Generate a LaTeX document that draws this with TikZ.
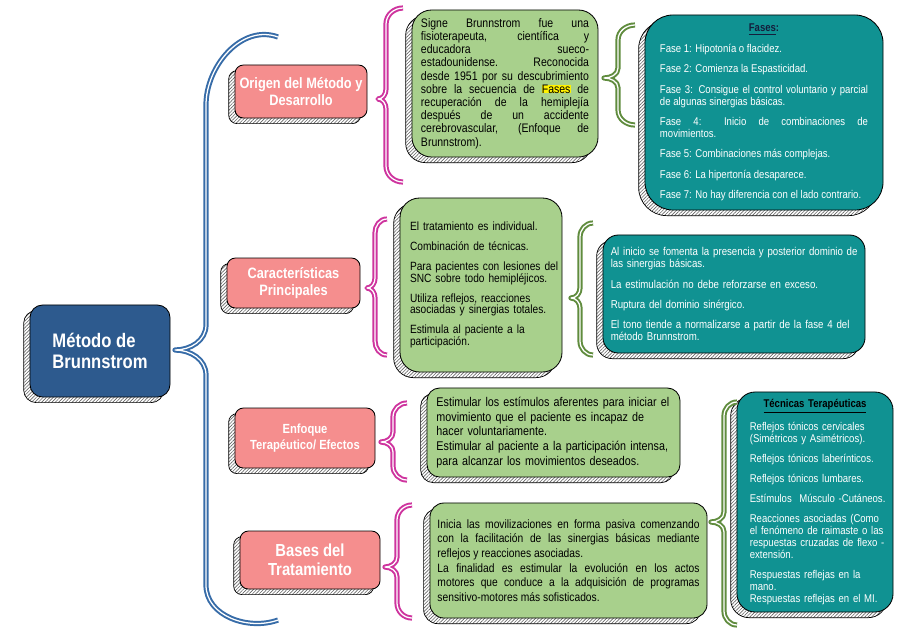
\documentclass[tikz,border=0pt]{standalone}
\usepackage{fontspec}
\setmainfont{Liberation Sans}[FakeStretch=0.85]
\usetikzlibrary{shadows,patterns.meta}

\definecolor{mainblue}{RGB}{45,90,142}
\definecolor{braceblue}{RGB}{55,108,168}
\definecolor{pinkfill}{RGB}{245,142,142}
\definecolor{greenfill}{RGB}{168,208,140}
\definecolor{tealfill}{RGB}{16,146,146}
\definecolor{bracepink}{RGB}{206,52,158}
\definecolor{bracegreen}{RGB}{96,140,62}
\definecolor{titlenavy}{RGB}{20,30,60}

\begin{document}
\begin{tikzpicture}[x=0.025cm,y=0.025cm,
    hatched/.style={general shadow={shadow xshift=-4.5pt,shadow yshift=-4pt,draw=black,line width=0.5pt,pattern={Lines[angle=45,distance=1.7pt,line width=0.45pt]},pattern color=black!60}},
    main node/.style={draw=black,line width=0.6pt,fill=mainblue,rounded corners=9pt,hatched,text=white,align=left,font=\fontsize{13.9}{15}\selectfont\bfseries,minimum width=3.5cm,minimum height=2.3cm},
    topic node/.style={draw=black,line width=0.6pt,fill=pinkfill,rounded corners=6pt,hatched,text=white,align=center,font=\fontsize{10.7}{12}\selectfont\bfseries,inner sep=1pt},
    green node/.style={draw=black,line width=0.6pt,fill=greenfill,rounded corners=14pt,hatched,text=black,inner sep=1pt},
    teal node/.style={draw=black,line width=0.6pt,fill=tealfill,rounded corners=16pt,hatched,text=white,inner sep=1pt},
    items/.style={execute at begin node={\setlength{\parindent}{0pt}\setlength{\parskip}{#1}}},
    brace/.style={draw=#1,line width=1.4pt,double=white,double distance=0.9pt,line join=round}]

    \path[use as bounding box] (0,0) rectangle (905,-640);

    \node[main node] (1) at (100,-351) {Método de\\Brunnstrom};

    \node[topic node,minimum width=3.3cm,minimum height=1.325cm] (2) at (301,-91.5) {Origen del Método y\\Desarrollo};
    \node[topic node,minimum width=3.325cm,minimum height=1.25cm] (3) at (293.5,-283) {Características\\Principales};
    \node[topic node,minimum width=3.5cm,minimum height=1.5cm,font=\fontsize{9.4}{11.4}\selectfont\bfseries] (4) at (305,-438) {Enfoque\\Terapéutico/ Efectos};
    \node[topic node,minimum width=3.5cm,minimum height=1.45cm,font=\fontsize{12.4}{13.5}\selectfont\bfseries] (5) at (310,-560) {Bases del\\Tratamiento};

    \node[green node,rounded corners=14pt,minimum width=4.65cm,minimum height=3.675cm,text width=4.2cm,align=justify,items=0pt,font=\fontsize{8.8}{9.4}\selectfont] (6) at (505,-83.5)
        {Signe Brunnstrom fue una\linebreak fisioterapeuta, científica y\linebreak educadora sueco-\linebreak estadounidense. Reconocida\linebreak desde 1951 por su descubrimiento\linebreak sobre la secuencia de {\setlength{\fboxsep}{0pt}\colorbox{yellow}{Fases}} de\linebreak recuperación de la hemiplejía\linebreak después de un accidente\linebreak cerebrovascular, (Enfoque de\linebreak Brunnstrom).};
    \node[green node,minimum width=4.05cm,minimum height=4.35cm,text width=3.9cm,align=left,items=5.8pt,font=\fontsize{8.5}{8.4}\selectfont] (7) at (481,-285)
        {\leftskip=5pt El tratamiento es individual.\par
         Combinación de técnicas.\par
         Para pacientes con lesiones del\newline SNC sobre todo hemipléjicos.\par
         Utiliza reflejos, reacciones\newline asociadas y sinergias totales.\par
         Estimula al paciente a la\newline participación.\par};
    \node[green node,rounded corners=9pt,minimum width=6.325cm,minimum height=2.225cm,text width=5.85cm,align=left,items=0pt,font=\fontsize{9}{10.5}\selectfont] (8) at (553.5,-432.5)
        {Estimular los estímulos aferentes para iniciar el\newline movimiento que el paciente es incapaz de\newline hacer voluntariamente.\newline Estimular al paciente a la participación intensa,\newline para alcanzar los movimientos deseados.};
    \node[green node,rounded corners=10pt,minimum width=6.925cm,minimum height=2.875cm,text width=6.55cm,align=justify,items=0pt,font=\fontsize{8.6}{10.4}\selectfont] (9) at (568.5,-560.5)
        {Inicia las movilizaciones en forma pasiva comenzando\linebreak con la facilitación de las sinergias básicas mediante\linebreak reflejos y reacciones asociadas.\par
         La finalidad es estimular la evolución en los actos\linebreak motores que conduce a la adquisición de programas\linebreak sensitivo-motores más sofisticados.};

    \node[teal node,rounded corners=20pt,minimum width=5.95cm,minimum height=4.875cm,text width=5.2cm,align=justify,items=6pt,font=\fontsize{8}{8.5}\selectfont] (10) at (764,-112.5)
        {{\centering\bfseries\color{titlenavy}\underline{Fases}:\par}
         Fase 1: Hipotonía o flacidez.\par
         Fase 2: Comienza la Espasticidad.\par
         Fase 3: Consigue el control voluntario y parcial\linebreak de algunas sinergias básicas.\par
         Fase 4: Inicio de combinaciones de\linebreak movimientos.\par
         Fase 5: Combinaciones más complejas.\par
         Fase 6: La hipertonía desaparece.\par
         Fase 7: No hay diferencia con el lado contrario.};
    \node[teal node,rounded corners=11pt,minimum width=6.55cm,minimum height=2.95cm,text width=6.3cm,align=left,items=5.8pt,font=\fontsize{8.1}{8.5}\selectfont] (11) at (734,-294)
        {\leftskip=2pt Al inicio se fomenta la presencia y posterior dominio de\newline las sinergias básicas.\par
         La estimulación no debe reforzarse en exceso.\par
         Ruptura del dominio sinérgico.\par
         El tono tiende a normalizarse a partir de la fase 4 del\newline método Brunnstrom.\par};
    \node[teal node,rounded corners=13pt,minimum width=3.9cm,minimum height=5.5cm,text width=3.75cm,align=left,items=5.7pt,font=\fontsize{8}{8.5}\selectfont] (12) at (815,-502)
        {\leftskip=7pt{\centering\bfseries\color{black}\underline{Técnicas Terapéuticas}\par}
         Reflejos tónicos cervicales\newline (Simétricos y Asimétricos).\par
         Reflejos tónicos laberínticos.\par
         Reflejos tónicos lumbares.\par
         Estímulos~ Músculo -Cutáneos.\par
         Reacciones asociadas (Como\newline el fenómeno de raimaste o las\newline respuestas cruzadas de flexo -\newline extensión.\par
         Respuestas reflejas en la\newline mano.\newline Respuestas reflejas en el MI.\par};

    \draw[brace=braceblue] (278,-37) to[out=160,in=90] (206,-105) -- (206,-325) to[out=-90,in=0] (175,-350)
        to[out=0,in=90] (206,-375) -- (206,-585) to[out=-90,in=200] (278,-620);

    \draw[brace=bracepink] (403,-8) to[out=180,in=90] (386,-24) -- (386,-89) to[out=-90,in=0] (378,-99)
        to[out=0,in=90] (386,-109) -- (386,-166) to[out=-90,in=180] (403,-182);
    \draw[brace=bracepink] (387,-219) to[out=180,in=90] (375,-233) -- (375,-278) to[out=-90,in=0] (367,-288)
        to[out=0,in=90] (375,-298) -- (375,-341) to[out=-90,in=180] (387,-355);
    \draw[brace=bracepink] (407,-403) to[out=180,in=90] (393,-417) -- (393,-432) to[out=-90,in=0] (381,-442)
        to[out=0,in=90] (393,-452) -- (393,-466) to[out=-90,in=180] (407,-480);
    \draw[brace=bracepink] (412,-505) to[out=180,in=90] (397,-520) -- (397,-557) to[out=-90,in=0] (385,-567)
        to[out=0,in=90] (397,-577) -- (397,-603) to[out=-90,in=180] (412,-618);

    \draw[brace=bracegreen] (635,-25) to[out=180,in=90] (618,-40) -- (618,-68) to[out=-90,in=0] (604,-78)
        to[out=0,in=90] (618,-88) -- (618,-110) to[out=-90,in=180] (635,-125);
    \draw[brace=bracegreen] (593,-223) to[out=180,in=90] (580,-237) -- (580,-288) to[out=-90,in=0] (571,-298)
        to[out=0,in=90] (580,-308) -- (580,-341) to[out=-90,in=180] (593,-355);
    \draw[brace=bracegreen] (737,-402) to[out=180,in=90] (724,-416) -- (724,-512) to[out=-90,in=0] (711,-522)
        to[out=0,in=90] (724,-532) -- (724,-611) to[out=-90,in=180] (737,-625);
\end{tikzpicture}
\end{document}
